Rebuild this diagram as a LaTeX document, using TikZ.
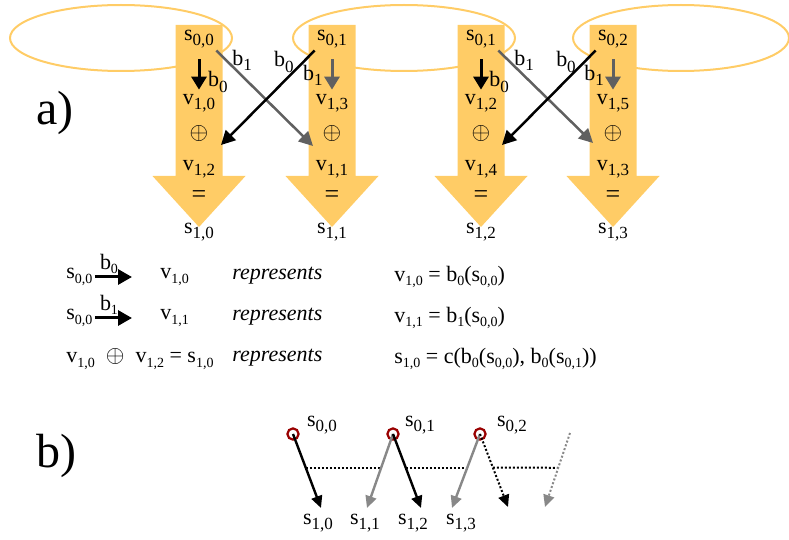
\documentclass[tikz,border=0pt]{standalone}
\usepackage{fontspec}
\setmainfont{Liberation Serif}
\usetikzlibrary{arrows.meta,calc}
\definecolor{blockorange}{HTML}{FFCC66}
\definecolor{darkgrey}{HTML}{606060}
\definecolor{midgrey}{HTML}{888888}
\definecolor{seedred}{HTML}{990000}
% s_{0,0} etc.: big subscripts in the pictures, small ones in the key
\newcommand{\ix}[2]{#1\raisebox{-2.6pt}{\fontsize{8.5}{9}\selectfont#2}}
\newcommand{\ixs}[2]{#1\raisebox{-2.2pt}{\fontsize{7}{8}\selectfont#2}}
\tikzset{
  lbl/.style={font=\fontsize{11}{13}\selectfont,inner sep=1pt},
  sym/.style={font=\fontsize{13}{14}\selectfont,inner sep=0pt},
  part/.style={font=\fontsize{24}{28}\selectfont,inner sep=0pt},
  blk/.style={fill=blockorange,draw=none},
  ring/.style={draw=blockorange,line width=1pt},
  % part a
  down/.style={-{Triangle[length=6.5pt,width=7.5pt]},line width=1.5pt},
  cross/.style={-{Triangle[length=7pt,width=7pt]},line width=1.25pt},
  ga/.style={draw=darkgrey},
  % key
  lgd/.style={-{Triangle[length=7pt,width=7.5pt]},line width=1.5pt},
  % part b
  seed/.style={circle,draw=seedred,line width=1.1pt,inner sep=0pt,minimum size=5.6pt},
  pb/.style={-{Triangle[length=6pt,width=5.5pt]},line width=1.2pt},
  gb/.style={draw=midgrey},
  dotline/.style={line width=1pt,dash pattern=on 1pt off 1pt},
}
\begin{document}
\begin{tikzpicture}[x=0.5pt,y=-0.5pt]
\useasboundingbox (0,0) rectangle (789,540);
  % ---- a) ----
  \draw[ring] (121,38) ellipse [x radius=111, y radius=33];
  \draw[ring] (404,38) ellipse [x radius=111, y radius=33];
  \draw[ring] (681,38) ellipse [x radius=108, y radius=33];
  \foreach \cx in {199,332,481,613}
    \fill[blk] (\cx-23.5,25) -- (\cx+23.5,25) -- (\cx+23.5,176) -- (\cx+46.5,176)
      -- (\cx,227) -- (\cx-46.5,176) -- (\cx-23.5,176) -- cycle;
  \node[part] (pa) at (55,113) {a)};
  % column 1
  \node[lbl] (sA) at (199,39) {\ix{s}{0,0}};
  \node[lbl] (vA1) at (199,103) {\ix{v}{1,0}};
  \node[sym] (oA) at (199,134) {$\oplus$};
  \node[lbl] (vA2) at (199,169) {\ix{v}{1,2}};
  \node[sym] (eA) at (199,197) {=};
  \node[lbl] (sA1) at (199,232) {\ix{s}{1,0}};
  % column 2
  \node[lbl] (sB) at (332,39) {\ix{s}{0,1}};
  \node[lbl] (vB1) at (332,103) {\ix{v}{1,3}};
  \node[sym] (oB) at (332,134) {$\oplus$};
  \node[lbl] (vB2) at (332,169) {\ix{v}{1,1}};
  \node[sym] (eB) at (332,197) {=};
  \node[lbl] (sB1) at (332,232) {\ix{s}{1,1}};
  % column 3
  \node[lbl] (sC) at (481,39) {\ix{s}{0,1}};
  \node[lbl] (vC1) at (481,103) {\ix{v}{1,2}};
  \node[sym] (oC) at (481,134) {$\oplus$};
  \node[lbl] (vC2) at (481,169) {\ix{v}{1,4}};
  \node[sym] (eC) at (481,197) {=};
  \node[lbl] (sC1) at (481,232) {\ix{s}{1,2}};
  % column 4
  \node[lbl] (sD) at (613,39) {\ix{s}{0,2}};
  \node[lbl] (vD1) at (613,103) {\ix{v}{1,5}};
  \node[sym] (oD) at (613,134) {$\oplus$};
  \node[lbl] (vD2) at (613,169) {\ix{v}{1,3}};
  \node[sym] (eD) at (613,197) {=};
  \node[lbl] (sD1) at (613,232) {\ix{s}{1,3}};
  % straight down
  \draw[down,shorten <=4.5pt,shorten >=1pt] (sA) -- (vA1);
  \draw[down,ga,shorten <=4.5pt,shorten >=1pt] (sB) -- (vB1);
  \draw[down,shorten <=4.5pt,shorten >=1pt] (sC) -- (vC1);
  \draw[down,ga,shorten <=4.5pt,shorten >=1pt] (sD) -- (vD1);
  \node[lbl] (bA) at (218,82) {\ix{b}{0}};
  \node[lbl] (bB) at (313,75) {\ix{b}{1}};
  \node[lbl] (bC) at (499,82) {\ix{b}{0}};
  \node[lbl] (bD) at (594,75) {\ix{b}{1}};
  % across
  \coordinate (tAB) at (313,146);
  \coordinate (tBA) at (221,145);
  \coordinate (tCD) at (593,143);
  \coordinate (tDC) at (502,145);
  \draw[cross,ga] (sA.south east) -- (tAB);
  \draw[cross] (sB.south west) -- (tBA);
  \draw[cross,ga] (sC.south east) -- (tCD);
  \draw[cross] (sD.south west) -- (tDC);
  \node[lbl] (xAB) at (242,60) {\ix{b}{1}};
  \node[lbl] (xBA) at (284,62) {\ix{b}{0}};
  \node[lbl] (xCD) at (524,60) {\ix{b}{1}};
  \node[lbl] (xDC) at (566,62) {\ix{b}{0}};

  % ---- key ----
  \node[lbl,anchor=west] (ks1) at (64,277) {\ixs{s}{0,0}};
  \coordinate (ka1) at (132,277);
  \draw[lgd] (ks1) -- (ka1);
  \node[lbl] (kb1) at (109,264) {\ixs{b}{0}};
  \node[lbl,anchor=west] (kv1) at (158,277) {\ixs{v}{1,0}};
  \node[lbl,anchor=west] (kr1) at (230,276) {\itshape represents};
  \node[lbl,anchor=west] (ke1) at (392,277) {\ixs{v}{1,0} = \ixs{b}{0}(\ixs{s}{0,0})};

  \node[lbl,anchor=west] (ks2) at (64,318) {\ixs{s}{0,0}};
  \coordinate (ka2) at (132,318);
  \draw[lgd] (ks2) -- (ka2);
  \node[lbl] (kb2) at (109,305) {\ixs{b}{1}};
  \node[lbl,anchor=west] (kv2) at (158,318) {\ixs{v}{1,1}};
  \node[lbl,anchor=west] (kr2) at (230,317) {\itshape represents};
  \node[lbl,anchor=west] (ke2) at (392,318) {\ixs{v}{1,1} = \ixs{b}{1}(\ixs{s}{0,0})};

  \node[lbl,anchor=west] (ks3) at (64,359)
    {\ixs{v}{1,0}\enspace{\fontsize{13}{13}\selectfont$\oplus$}\enspace\ixs{v}{1,2} = \ixs{s}{1,0}};
  \node[lbl,anchor=west] (kr3) at (230,358) {\itshape represents};
  \node[lbl,anchor=west] (ke3) at (392,359)
    {\ixs{s}{1,0} = c(\ixs{b}{0}(\ixs{s}{0,0}), \ixs{b}{0}(\ixs{s}{0,1}))};

  % ---- b) ----
  \node[part] (pbl) at (56,456) {b)};
  \node[seed] (c0) at (293,434) {};
  \node[seed] (c1) at (393,434) {};
  \node[seed] (c2) at (480,434) {};
  \coordinate (c3) at (570,433);
  \coordinate (t0) at (321,508);
  \coordinate (t1) at (367,508);
  \coordinate (t2) at (421,508);
  \coordinate (t3) at (452,508);
  \coordinate (t4) at (508,507);
  \coordinate (t5) at (545,507);
  \draw[dotline] ($(c0)!0.46!(t0)$) -- ($(c1)!0.46!(t1)$);
  \draw[dotline] ($(c1)!0.46!(t2)$) -- ($(c2)!0.46!(t3)$);
  \draw[dotline] ($(c2)!0.46!(t4)$) -- ($(c3)!0.47!(t5)$);
  \draw[pb] (c0.center) -- (t0);
  \draw[pb,gb] (c1.center) -- (t1);
  \draw[pb] (c1.center) -- (t2);
  \draw[pb,gb] (c2.center) -- (t3);
  \draw[pb,dotline] (c2.center) -- (t4);
  \draw[pb,gb,dotline] (c3) -- (t5);
  \node[lbl] (n0) at (322,425) {\ix{s}{0,0}};
  \node[lbl] (n1) at (420,425) {\ix{s}{0,1}};
  \node[lbl] (n2) at (512,425) {\ix{s}{0,2}};
  \node[lbl] (m0) at (318,523) {\ix{s}{1,0}};
  \node[lbl] (m1) at (365,523) {\ix{s}{1,1}};
  \node[lbl] (m2) at (413,523) {\ix{s}{1,2}};
  \node[lbl] (m3) at (461,523) {\ix{s}{1,3}};
\end{tikzpicture}
\end{document}
